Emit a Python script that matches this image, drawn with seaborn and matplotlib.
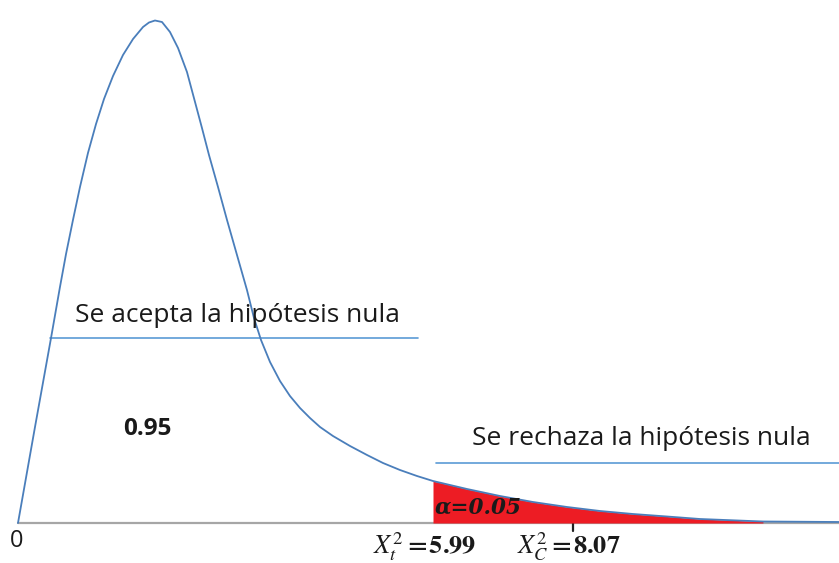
import numpy as np
import seaborn as sns
import matplotlib.pyplot as plt

# Curve (x in chi-square units, y in density units)
chi_x = [0.0, 0.247, 0.480, 0.610, 0.698, 0.799, 0.901, 1.017, 1.134, 1.250,
         1.381, 1.526, 1.672, 1.817, 1.904, 1.991, 2.093, 2.209, 2.326, 2.456,
         2.573, 2.674, 2.776, 2.907, 3.038, 3.183, 3.328, 3.430, 3.532, 3.663,
         3.808, 3.953, 4.099, 4.244, 4.390, 4.578, 4.826, 5.073, 5.305, 5.552,
         5.799, 6.032, 6.526, 7.006, 7.485, 7.980, 8.459, 8.939, 9.433, 9.913,
         10.828, 11.933]
chi_y = [0.0, 0.0384, 0.0740, 0.0944, 0.1076, 0.1212, 0.1344, 0.1480, 0.1596, 0.1696,
         0.1788, 0.1872, 0.1936, 0.1984, 0.2002, 0.2010, 0.2004, 0.1964, 0.1900, 0.1804,
         0.1684, 0.1580, 0.1472, 0.1344, 0.1212, 0.1072, 0.0932, 0.0820, 0.0732, 0.0644,
         0.0568, 0.0508, 0.0460, 0.0420, 0.0384, 0.0348, 0.0308, 0.0272, 0.0240, 0.0212,
         0.0188, 0.0168, 0.0136, 0.0108, 0.0084, 0.0064, 0.0048, 0.0036, 0.0026, 0.0016,
         0.0006, 0.0004]

crit_t = 5.99      # tabulated value
crit_c = 8.07      # computed value
alpha = 0.05
conf = 0.95
red_end = 10.83

sns.set_theme(style="white")
plt.rcParams['font.family'] = ['Open Sans', 'DejaVu Sans']
plt.rcParams['mathtext.fontset'] = 'stix'

fig = plt.figure(figsize=(8.39, 5.63), dpi=100)
ax = fig.add_axes([0, 0, 1, 1])

x = np.array(chi_x)
y = np.array(chi_y)

# Rejection region
mask = (x >= crit_t) & (x <= red_end)
ax.fill_between(x[mask], 0, y[mask], color="#ed1c24", linewidth=0, zorder=2)

# baseline
ax.plot([0, x.max()], [0, 0], color="#a6a6a6", linewidth=1.6, zorder=1)
# tick for computed value
ax.plot([crit_c, crit_c], [0, -0.003], color="#222222", linewidth=1.6, zorder=1)

sns.lineplot(x=chi_x, y=chi_y, ax=ax, color="#4a7ebb", linewidth=1.3, zorder=3,
             solid_joinstyle="round")

# region lines
ax.plot([0.465, 5.81], [0.074, 0.074], color="#5b9bd5", linewidth=1.2)
ax.plot([6.08, 11.93], [0.024, 0.024], color="#5b9bd5", linewidth=1.2)

txt = "#1a1a1a"
ax.text(0.83, 0.0804, "Se acepta la hipótesis nula", fontsize=19, color=txt,
        ha="left", va="baseline")
ax.text(6.6, 0.0312, "Se rechaza la hipótesis nula", fontsize=19, color=txt,
        ha="left", va="baseline")
ax.text(1.527, 0.0352, f"{conf:.2f}", fontsize=17.5, fontweight="bold", color=txt,
        ha="left", va="baseline")
ax.text(6.06, 0.0040, f"α={alpha:.2f}", fontsize=15.5, fontweight="bold", fontstyle="italic",
        family="DejaVu Serif", color=txt, ha="left", va="baseline")
ax.text(-0.015, -0.0096, "0", fontsize=17, color=txt, ha="center", va="baseline")
ax.text(5.16, -0.0122, r"$\boldsymbol{X_t^2 = 5.99}$", fontsize=19, color=txt,
        ha="left", va="baseline")
ax.text(7.25, -0.0122, r"$\boldsymbol{X_C^2 = 8.07}$", fontsize=19, color=txt,
        ha="left", va="baseline")

ax.set_xlim(-18 / 68.8, 821 / 68.8)
ax.set_ylim(-40 / 2500, 523 / 2500)
ax.axis("off")

fig.savefig("out.png", dpi=100, facecolor="white")
